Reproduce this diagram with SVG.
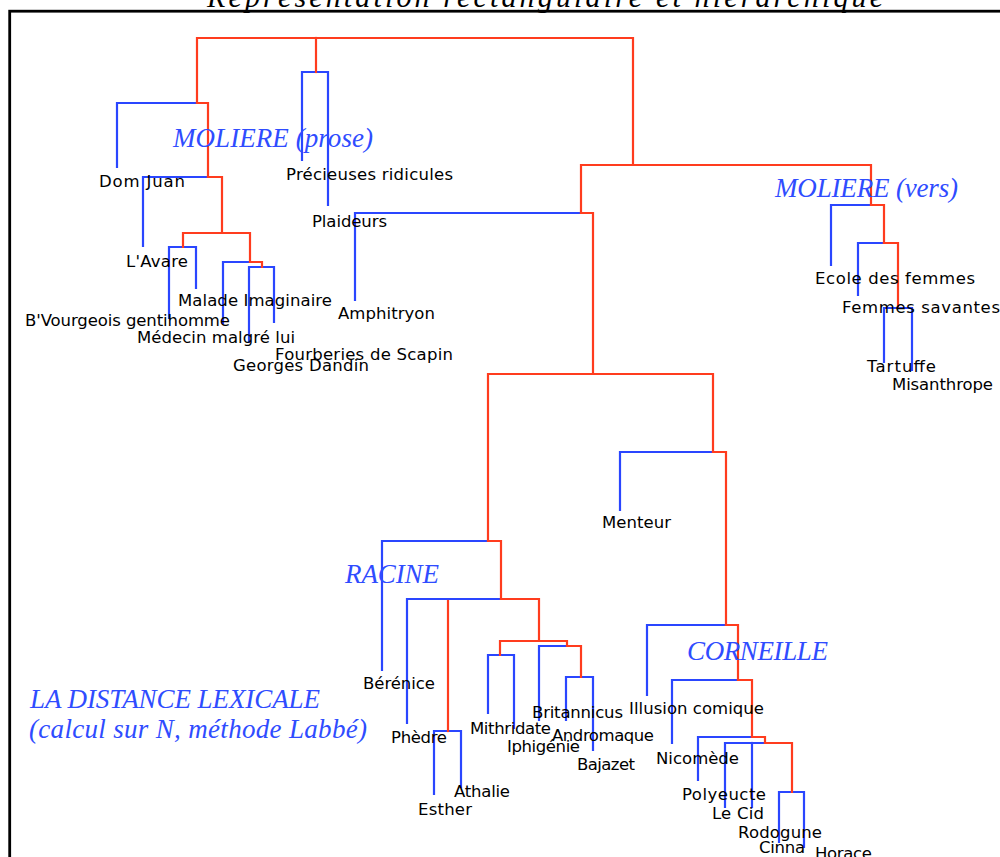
<svg xmlns="http://www.w3.org/2000/svg" width="1000" height="857" viewBox="0 0 1000 857">
<style>
.r{stroke:#ff3c1e;stroke-width:2.2;fill:none;stroke-linejoin:miter;stroke-linecap:square}
.b{stroke:#2a46ff;stroke-width:2.2;fill:none;stroke-linejoin:miter;stroke-linecap:square}
.lbl{font-family:"DejaVu Sans","Liberation Sans",sans-serif;font-size:16.5px;fill:#000}
.grp{font-family:"Liberation Serif","Times New Roman",serif;font-style:italic;font-size:27px;fill:#2f4cff}
.title{font-family:"Liberation Serif","Times New Roman",serif;font-style:italic;font-size:30px;fill:#000}
</style>
<rect width="1000" height="857" fill="#fff"/>
<text class="title" x="207" y="7" textLength="676">Représentation rectangulaire et hiérarchique</text>
<rect x="9.7" y="11.2" width="1010" height="900" fill="none" stroke="#000" stroke-width="2.8"/>

<g id="connectors">
  <!-- blue segments -->
  <path class="b" d="M117,167 V103 H197"/>
  <path class="b" d="M143,246 V177 H208"/>
  <path class="b" d="M169,318 V247 H196 V288"/>
  <path class="b" d="M223,323 V262 H250"/>
  <path class="b" d="M249,342 V267 H274 V322"/>
  <path class="b" d="M302,160 V72 H328 V205"/>
  <path class="b" d="M355,300 V213 H581"/>
  <path class="b" d="M831,265 V205 H871"/>
  <path class="b" d="M858,295 V243 H884"/>
  <path class="b" d="M884,362 V308 H912 V370"/>
  <path class="b" d="M382,670 V541 H488"/>
  <path class="b" d="M407,723 V599 H501"/>
  <path class="b" d="M434,794 V731 H461 V787"/>
  <path class="b" d="M539,720 V646 H567"/>
  <path class="b" d="M488,713 V655 H514 V728"/>
  <path class="b" d="M566,720 V677 H593 V750"/>
  <path class="b" d="M620,510 V452 H713"/>
  <path class="b" d="M647,695 V625 H726"/>
  <path class="b" d="M672,743 V680 H738"/>
  <path class="b" d="M698,780 V737 H752"/>
  <path class="b" d="M725,807 V743 H765"/>
  <path class="b" d="M752,743 V807"/>
  <path class="b" d="M779,842 V792 H804 V847"/>
  <!-- red segments -->
  <path class="r" d="M197,103 V38 H633 V165"/>
  <path class="r" d="M316,38 V72"/>
  <path class="r" d="M197,103 H208 V177"/>
  <path class="r" d="M208,177 H222 V233"/>
  <path class="r" d="M183,247 V233 H250 V262"/>
  <path class="r" d="M250,262 H262 V267"/>
  <path class="r" d="M581,213 V165 H871 V205"/>
  <path class="r" d="M581,213 H593 V374"/>
  <path class="r" d="M488,541 V374 H713 V452"/>
  <path class="r" d="M871,205 H884 V243"/>
  <path class="r" d="M884,243 H898 V308"/>
  <path class="r" d="M488,541 H501 V599"/>
  <path class="r" d="M501,599 H539 V641"/>
  <path class="r" d="M448,731 V601"/>
  <path class="r" d="M500,655 V641 H567 V646 H581 V677"/>
  <path class="r" d="M713,452 H726 V625"/>
  <path class="r" d="M726,625 H738 V680"/>
  <path class="r" d="M738,680 H752 V737"/>
  <path class="r" d="M752,737 H765 V743"/>
  <path class="r" d="M765,743 H792 V792"/>
</g>

<g id="group-labels">
  <text class="grp" x="173" y="147" textLength="200">MOLIERE (prose)</text>
  <text class="grp" x="775" y="197" textLength="183">MOLIERE (vers)</text>
  <text class="grp" x="345" y="583" textLength="94">RACINE</text>
  <text class="grp" x="687" y="660" textLength="141">CORNEILLE</text>
  <text class="grp" x="30" y="708" textLength="290">LA DISTANCE LEXICALE</text>
  <text class="grp" x="29" y="738" textLength="338">(calcul sur N, méthode Labbé)</text>
</g>

<g id="n-domjuan"><text class="lbl" x="99" y="187" textLength="86">Dom Juan</text></g>
<g id="n-precieuses"><text class="lbl" x="286" y="180" textLength="167">Précieuses ridicules</text></g>
<g id="n-plaideurs"><text class="lbl" x="312" y="227" textLength="75">Plaideurs</text></g>
<g id="n-avare"><text class="lbl" x="126" y="267" textLength="62">L'Avare</text></g>
<g id="n-malade"><text class="lbl" x="178" y="306" textLength="154">Malade Imaginaire</text></g>
<g id="n-bourgeois"><text class="lbl" x="25" y="326" textLength="205">B'Vourgeois gentihomme</text></g>
<g id="n-medecin"><text class="lbl" x="137" y="343" textLength="158">Médecin malgré lui</text></g>
<g id="n-fourberies"><text class="lbl" x="275" y="360" textLength="178">Fourberies de Scapin</text></g>
<g id="n-dandin"><text class="lbl" x="233" y="371" textLength="136">Georges Dandin</text></g>
<g id="n-amphitryon"><text class="lbl" x="338" y="319" textLength="97">Amphitryon</text></g>
<g id="n-ecole"><text class="lbl" x="815" y="284" textLength="160">Ecole des femmes</text></g>
<g id="n-femmes"><text class="lbl" x="842" y="313" textLength="158">Femmes savantes</text></g>
<g id="n-tartuffe"><text class="lbl" x="867" y="372" textLength="69">Tartuffe</text></g>
<g id="n-misanthrope"><text class="lbl" x="892" y="390" textLength="101">Misanthrope</text></g>
<g id="n-menteur"><text class="lbl" x="602" y="528" textLength="69">Menteur</text></g>
<g id="n-berenice"><text class="lbl" x="363" y="689" textLength="72">Bérénice</text></g>
<g id="n-phedre"><text class="lbl" x="391" y="743" textLength="56">Phèdre</text></g>
<g id="n-esther"><text class="lbl" x="418" y="815" textLength="54">Esther</text></g>
<g id="n-athalie"><text class="lbl" x="454" y="797" textLength="56">Athalie</text></g>
<g id="n-mithridate"><text class="lbl" x="470" y="734" textLength="81">Mithridate</text></g>
<g id="n-iphigenie"><text class="lbl" x="507" y="752" textLength="73">Iphigénie</text></g>
<g id="n-britannicus"><text class="lbl" x="532" y="718" textLength="91">Britannicus</text></g>
<g id="n-andromaque"><text class="lbl" x="552" y="741" textLength="102">Andromaque</text></g>
<g id="n-bajazet"><text class="lbl" x="577" y="770" textLength="58">Bajazet</text></g>
<g id="n-illusion"><text class="lbl" x="629" y="714" textLength="135">Illusion comique</text></g>
<g id="n-nicomede"><text class="lbl" x="656" y="764" textLength="83">Nicomède</text></g>
<g id="n-polyeucte"><text class="lbl" x="682" y="800" textLength="84">Polyeucte</text></g>
<g id="n-lecid"><text class="lbl" x="712" y="819" textLength="52">Le Cid</text></g>
<g id="n-rodogune"><text class="lbl" x="738" y="838" textLength="84">Rodogune</text></g>
<g id="n-cinna"><text class="lbl" x="759" y="853" textLength="46">Cinna</text></g>
<g id="n-horace"><text class="lbl" x="815" y="859" textLength="57">Horace</text></g>
</svg>
